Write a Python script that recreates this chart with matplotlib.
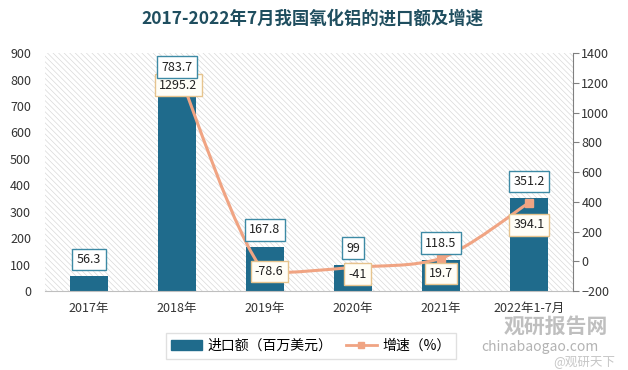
import matplotlib
matplotlib.use('Agg')
import matplotlib.pyplot as plt
from matplotlib.path import Path
from matplotlib.patches import PathPatch, Rectangle
from matplotlib.lines import Line2D

plt.rcParams['font.family'] = ['Noto Sans CJK SC', 'DejaVu Sans']
plt.rcParams['hatch.linewidth'] = 0.5
plt.rcParams['hatch.color'] = '#d9d9d9'

# data
years = ['2017年', '2018年', '2019年', '2020年', '2021年', '2022年1-7月']
imports = [56.3, 783.7, 167.8, 99, 118.5, 351.2]          # 百万美元
growth_years = [1, 2, 3, 4, 5]                             # 2018 .. 2022
growth = [1295.2, -78.6, -41, 19.7, 394.1]                 # %

bar_color = '#1f6b8c'
line_color = '#f0a483'
title_color = '#1f4e5f'

fig = plt.figure(figsize=(6.28, 3.70), dpi=100)
ax = fig.add_axes([0.0717, 0.2135, 0.8408, 0.643])
ax2 = ax.twinx()

# hatched background
ax.add_patch(Rectangle((0, 0), 1, 1, transform=ax.transAxes, facecolor='white',
                       hatch='\\\\\\\\\\\\', edgecolor='#d9d9d9', lw=0, zorder=0))

x = list(range(len(years)))
ax.bar(x, imports, width=0.43, color=bar_color, zorder=2)
ax.set_xlim(-0.5, 5.5)
ax.set_ylim(0, 900)
ax.set_yticks(range(0, 901, 100))
ax.set_xticks(x)
ax.set_xticklabels(years)
ax.tick_params(axis='both', length=0, labelsize=9, colors='#333333', pad=10)
ax.tick_params(axis='x', pad=8)
for s in ['left', 'top', 'right']:
    ax.spines[s].set_visible(False)
ax.spines['bottom'].set_color('#bfbfbf')

# smoothed growth line (bezier through the data points, no overshoot)
ax2.set_ylim(-200, 1400)
ax2.set_yticks(range(-200, 1401, 200))
pts = list(zip(growth_years, growth))
verts = [pts[0]]
codes = [Path.MOVETO]
for i in range(len(pts) - 1):
    p0 = pts[i - 1] if i > 0 else pts[i]
    p1 = pts[i]
    p2 = pts[i + 1]
    p3 = pts[i + 2] if i + 2 < len(pts) else pts[i + 1]
    lo, hi = min(p1[1], p2[1]), max(p1[1], p2[1])
    c1y = min(max(p1[1] + (p2[1] - p0[1]) / 6, lo), hi)
    c2y = min(max(p2[1] - (p3[1] - p1[1]) / 6, lo), hi)
    c1 = (p1[0] + (p2[0] - p0[0]) / 6, c1y)
    c2 = (p2[0] - (p3[0] - p1[0]) / 6, c2y)
    verts += [c1, c2, p2]
    codes += [Path.CURVE4] * 3
ax2.add_patch(PathPatch(Path(verts, codes), fc='none', ec=line_color, lw=2.2, zorder=3))
ax2.plot(growth_years, growth, ls='none', marker='s', ms=6, color=line_color, zorder=4)

offsets = [(1, -12), (3, 1), (3, -5), (0, -11), (0, -16)]
for xi, v, off in zip(growth_years, growth, offsets):
    ax2.annotate(f'{v:g}', (xi, v), xytext=off, textcoords='offset points',
                 ha='center', va='center', fontsize=9, color='#222222', zorder=6,
                 bbox=dict(boxstyle='square,pad=0.35', fc='#fffef7', ec='#e6c48e', lw=1))

# bar value labels drawn on top of the line
for xi, v in zip(x, imports):
    ax2.annotate(f'{v:g}', (xi, v), xycoords=ax.transData, xytext=(0, 12),
                 textcoords='offset points', ha='center', va='center', fontsize=9,
                 color='#222222', zorder=7,
                 bbox=dict(boxstyle='square,pad=0.35', fc='white', ec='#3d8aa5', lw=1))

ax2.tick_params(axis='y', length=4, labelsize=9, colors='#333333', pad=2)
ax2.tick_params(axis='y', color='#808080')
for s in ['left', 'top', 'bottom']:
    ax2.spines[s].set_visible(False)
ax2.spines['right'].set_color('#808080')
ax.set_zorder(1)
ax2.set_zorder(2)
ax2.patch.set_visible(False)

fig.text(0.497, 0.951, '2017-2022年7月我国氧化铝的进口额及增速', ha='center', va='center',
         fontsize=12.5, fontweight='bold', color=title_color)

handles = [Rectangle((0, 0), 1, 1, color=bar_color),
           Line2D([0], [0], color=line_color, lw=2, marker='s', ms=5)]
fig.legend(handles, ['进口额（百万美元）', '增速（%）'], loc='center',
           bbox_to_anchor=(0.495, 0.065), ncol=2, fontsize=10, frameon=True,
           fancybox=False, edgecolor='#d9d9d9', handlelength=2.2, columnspacing=1.0,
           borderpad=0.4, handletextpad=0.4)

# watermark
fig.text(0.885, 0.118, '观研报告网', ha='center', va='center', fontsize=15,
         fontweight='bold', color='#b0b0b0', alpha=0.8)
fig.text(0.86, 0.062, 'chinabaogao.com', ha='center', va='center', fontsize=10,
         color='#a0a0a0', alpha=0.8)
fig.text(0.93, 0.024, '@观研天下', ha='center', va='center', fontsize=9,
         color='#b8b8b8', alpha=0.8)

fig.savefig('out.png', dpi=100)
